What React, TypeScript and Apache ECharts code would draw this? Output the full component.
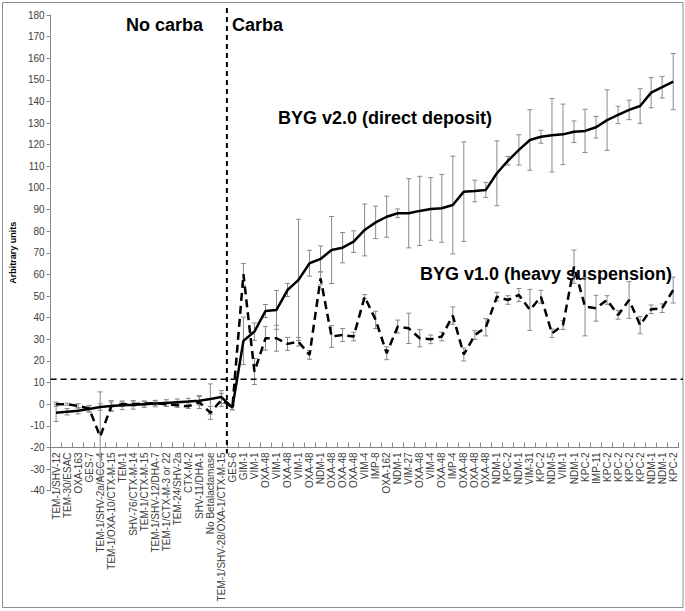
import React, { useEffect, useRef } from "react";
import * as echarts from "echarts";

const categories: string[] = [
  "TEM-1/SHV-12", "TEM-30/ESAC", "OXA-163", "GES-7", "TEM-1/SHV-2a/ACC-4",
  "TEM-1/OXA-10/CTX-M-15", "TEM-1", "SHV-76/CTX-M-14", "TEM-1/CTX-M-15",
  "TEM-1/SHV-12/DHA-7", "TEM-1/CTX-M-3 or 22", "TEM-24/SHV-2a", "CTX-M-2",
  "SHV-11/DHA-1", "No Betalactamase", "TEM-1/SHV-28/OXA-1/CTX-M-15",
  "GES-6", "GIM-1", "VIM-1", "OXA-48", "VIM-1", "OXA-48", "VIM-1", "OXA-48",
  "NDM-1", "OXA-48", "OXA-48", "OXA-48", "VIM-4", "IMP-8", "OXA-162", "NDM-1",
  "VIM-27", "OXA-48", "VIM-4", "OXA-48", "IMP-4", "OXA-48", "OXA-48", "OXA-48",
  "NDM-1", "KPC-2", "NDM-1", "VIM-31", "KPC-2", "NDM-5", "VIM-1", "NDM-1",
  "KPC-2", "IMP-11", "KPC-2", "KPC-2", "KPC-2", "KPC-2", "NDM-1", "NDM-1", "KPC-2",
];

// BYG v2.0 (direct deposit) — solid line
const v2Values: number[] = [
  -4, -3.5, -3, -2.2, -1.3, -0.8, -0.5, -0.3, 0, 0.3, 0.6, 0.9, 1.2, 1.6, 2.4, 3.3,
  -1.6, 29.3, 33.6, 43.1, 43.6, 52.8, 57.5, 65.2, 67.2, 71.3, 72.4, 75.2, 80.6, 84.1,
  86.7, 88.3, 88.3, 89.4, 90.3, 90.6, 92.1, 98.3, 98.6, 99.1, 106.8, 112.6, 117.6,
  122.2, 123.7, 124.4, 124.8, 126, 126.4, 128.1, 131.4, 133.8, 136.1, 137.9, 144.1,
  146.6, 149.2,
];
const v2Errors: number[] = [
  4, 1.5, 1.5, 1.5, 1.5, 2.5, 2, 2, 1.5, 1.5, 1.5, 1.5, 1.5, 2, 7, 3,
  1, 11, 4, 3, 9, 3, 28, 6, 6, 15.5, 7, 5, 12, 7.5, 9.5, 2, 16, 16, 14.5, 15.7,
  22.6, 23, 5, 3.5, 15, 2, 7, 14, 3, 17, 14, 5, 10, 5, 14, 4, 4.5, 8, 7, 5, 13,
];

// BYG v1.0 (heavy suspension) — dashed line
const v1Values: number[] = [
  0, 0, -0.8, -2, -15, -1, 0, 0, 0.3, 0.5, 0, -0.5, -1, 1, -4, 2,
  -1.5, 60.1, 15.1, 30.5, 30.5, 27.9, 28.9, 22.8, 58.2, 31.3, 32, 31.3, 49.7, 39,
  23.6, 35.9, 35.1, 30.5, 30, 31.3, 41, 23, 32, 35.6, 49.7, 48.2, 50.5, 43.6, 49.7,
  32.8, 36.6, 63.6, 45.1, 44.4, 48.2, 41.3, 48.2, 36.6, 43.9, 44.4, 52.8,
];
const v1Errors: number[] = [
  1, 0.5, 1, 1.5, 20.7, 2, 1, 1, 1, 1, 1, 1, 1, 3, 3, 3,
  1, 5, 6, 5.5, 6, 3, 2, 2, 3, 5, 3, 2, 1, 4, 3, 3, 7, 4, 2, 2, 4, 3, 2, 4, 2, 2,
  3, 9.5, 3, 2, 2, 7.7, 13.5, 6, 2, 2, 8.5, 4, 2, 2, 6,
];

const yMin = -40;
const yMax = 180;
const yStep = 10;
const axisCrossValue = -20;
const thresholdValue = 11.5;
const groupBoundaryIndex = 15; // last "No carba" category

const FONT = "'Liberation Sans', Arial, sans-serif";

export default function App() {
  const ref = useRef<HTMLDivElement>(null);

  useEffect(() => {
    document.body.style.margin = "0";
    const el = ref.current!;
    const chart = echarts.init(el, null, { renderer: "svg" });

    const gridTop = 15;
    const gridBottomPx = 490.7;
    const H = 611;

    const errData = (vals: number[], errs: number[]) =>
      vals.map((v, i) => [i, v - errs[i], v + errs[i]]);

    const renderErr = (_params: any, api: any) => {
      const x = api.value(0);
      const lo = api.coord([x, api.value(1)]);
      const hi = api.coord([x, api.value(2)]);
      const w = 2.5;
      const st = { stroke: "#8a8a8a", lineWidth: 1 };
      return {
        type: "group",
        children: [
          { type: "line", shape: { x1: lo[0], y1: lo[1], x2: hi[0], y2: hi[1] }, style: st },
          { type: "line", shape: { x1: lo[0] - w, y1: lo[1], x2: lo[0] + w, y2: lo[1] }, style: st },
          { type: "line", shape: { x1: hi[0] - w, y1: hi[1], x2: hi[0] + w, y2: hi[1] }, style: st },
        ],
      };
    };

    const axisOffset = -((axisCrossValue - yMin) / (yMax - yMin)) * (gridBottomPx - gridTop);

    chart.setOption({
      animation: false,
      backgroundColor: "#ffffff",
      grid: { left: 42, top: gridTop, right: 6.3, bottom: H - gridBottomPx, containLabel: false },
      xAxis: {
        type: "category",
        data: categories,
        position: "bottom",
        offset: axisOffset,
        boundaryGap: true,
        axisLine: { show: true, onZero: false, lineStyle: { color: "#868686", width: 1 } },
        axisTick: { show: true, inside: true, length: 5, lineStyle: { color: "#868686" } },
        axisLabel: {
          rotate: 90,
          interval: 0,
          fontSize: 10,
          color: "#404040",
          fontFamily: FONT,
          margin: 5,
        },
        splitLine: { show: false },
      },
      yAxis: {
        type: "value",
        min: yMin,
        max: yMax,
        interval: yStep,
        name: "Arbitrary units",
        nameLocation: "middle",
        nameGap: 32,
        nameTextStyle: { fontSize: 9, fontWeight: "bold", color: "#000", fontFamily: FONT },
        axisLine: { show: true, lineStyle: { color: "#868686" } },
        axisTick: { show: true, length: 4, lineStyle: { color: "#868686" } },
        axisLabel: { fontSize: 10, color: "#404040", fontFamily: FONT, margin: 6 },
        splitLine: { show: false },
      },
      series: [
        {
          type: "custom",
          name: "v2err",
          renderItem: renderErr,
          data: errData(v2Values, v2Errors),
          z: 1,
          silent: true,
        },
        {
          type: "custom",
          name: "v1err",
          renderItem: renderErr,
          data: errData(v1Values, v1Errors),
          z: 1,
          silent: true,
        },
        {
          type: "line",
          name: "BYG v2.0 (direct deposit)",
          data: v2Values,
          showSymbol: false,
          symbol: "none",
          lineStyle: { color: "#000", width: 2.5 },
          z: 3,
        },
        {
          type: "line",
          name: "BYG v1.0 (heavy suspension)",
          data: v1Values,
          showSymbol: false,
          symbol: "none",
          lineStyle: { color: "#000", width: 2.5, type: [8, 5] },
          z: 3,
        },
      ],
    });

    const xA = chart.convertToPixel({ xAxisIndex: 0 }, groupBoundaryIndex) as number;
    const xB = chart.convertToPixel({ xAxisIndex: 0 }, groupBoundaryIndex + 1) as number;
    const xMid = (xA + xB) / 2;
    const yAxisCross = chart.convertToPixel({ yAxisIndex: 0 }, axisCrossValue) as number;
    const yThresh = chart.convertToPixel({ yAxisIndex: 0 }, thresholdValue) as number;
    const x0 = chart.convertToPixel({ xAxisIndex: 0 }, 0) as number;
    const leftEdge = x0 - (xB - xA) / 2;

    const titleStyle = { fontSize: 18, fontWeight: "bold", fill: "#000", fontFamily: FONT };

    chart.setOption({
      graphic: [
        {
          type: "rect",
          shape: { x: 2.5, y: 2.5, width: 680.5, height: 605 },
          style: { fill: "none", stroke: "#8c8c8c", lineWidth: 1 },
          silent: true,
        },
        {
          type: "line",
          shape: { x1: xMid, y1: 8, x2: xMid, y2: yAxisCross + 6 },
          style: { stroke: "#000", lineWidth: 2, lineDash: [5, 4] },
          z: 10,
        },
        {
          type: "line",
          shape: { x1: leftEdge, y1: yThresh, x2: 683, y2: yThresh },
          style: { stroke: "#000", lineWidth: 1.5, lineDash: [6, 4] },
          z: 10,
        },
        { type: "text", x: 126, y: 25, style: { ...titleStyle, text: "No carba", textVerticalAlign: "middle" } },
        { type: "text", x: 232, y: 25, style: { ...titleStyle, text: "Carba", textVerticalAlign: "middle" } },
        {
          type: "text",
          x: 278,
          y: 118,
          style: { ...titleStyle, text: "BYG v2.0 (direct deposit)", textVerticalAlign: "middle" },
        },
        {
          type: "text",
          x: 420,
          y: 274,
          style: { ...titleStyle, text: "BYG v1.0 (heavy suspension)", textVerticalAlign: "middle" },
        },
      ],
    });

    return () => {
      chart.dispose();
    };
  }, []);

  return <div ref={ref} style={{ width: 685, height: 611 }} />;
}
